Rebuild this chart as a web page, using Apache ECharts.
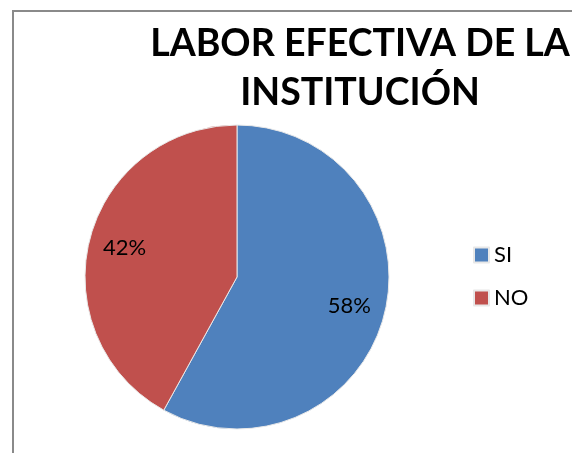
<!DOCTYPE html>
<html>
<head>
<meta charset="utf-8">
<script src="https://cdn.jsdelivr.net/npm/echarts@6/dist/echarts.min.js"></script>
<style>html,body{margin:0;padding:0;background:#fff;}#c{width:572px;height:453px;}</style>
</head>
<body>
<div id="c"></div>
<script>
const categories = ['SI', 'NO'];
const values = [58, 42];
const colors = ['#4F81BD', '#C0504D'];
const titleText = 'LABOR EFECTIVA DE LA\nINSTITUCIÓN';

const data = categories.map((name, i) => ({ name, value: values[i], itemStyle: { color: colors[i] } }));
const chart = echarts.init(document.getElementById('c'));
chart.setOption({
  animation: false,
  graphic: [{
    type: 'rect', shape: { x: 13, y: 11, width: 600, height: 500 },
    style: { fill: 'none', stroke: '#8a8a8a', lineWidth: 2 }, silent: true, z: 0
  }],
  title: {
    text: titleText, left: 355, top: 14, textAlign: 'center',
    textStyle: { fontFamily: 'Lato', fontWeight: 'bold', fontSize: 37.5, lineHeight: 49, color: '#000' }
  },
  legend: {
    orient: 'vertical', left: 468, top: 239, itemWidth: 15, itemHeight: 15, itemGap: 21,
    icon: 'rect', data: categories,
    textStyle: { fontFamily: 'Lato', fontSize: 22, lineHeight: 22, color: '#000' }
  },
  series: [{
    type: 'pie', center: [237, 277], radius: [0, 152], startAngle: 90, clockwise: true,
    data: data, label: { show: false }, labelLine: { show: false },
    itemStyle: { borderColor: '#e8e8e8', borderWidth: 1 },
    emphasis: { disabled: true }, silent: true
  }, {
    type: 'pie', center: [237, 277], radius: [74, 152], startAngle: 90, clockwise: true,
    data: data.map(d => ({ name: d.name, value: d.value })),
    itemStyle: { color: 'rgba(0,0,0,0)' },
    label: { show: true, position: 'inside', formatter: '{c}%', fontFamily: 'Lato', fontSize: 22, color: '#000' },
    labelLine: { show: false }, emphasis: { disabled: true }, silent: true,
    legendHoverLink: false
  }]
});
</script>
</body>
</html>
